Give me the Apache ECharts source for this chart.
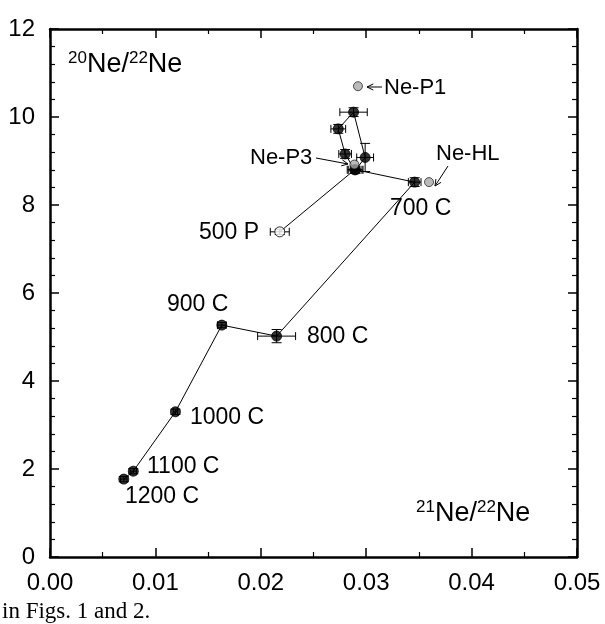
<!DOCTYPE html>
<html>
<head>
<meta charset="utf-8">
<script src="https://cdn.jsdelivr.net/npm/echarts@6/dist/echarts.min.js"></script>
<style>
  html, body { margin: 0; padding: 0; background: #fff; }
  #chart { width: 605px; height: 624px; }
</style>
</head>
<body>
<div id="chart"></div>
<script>
// stepped heating steps, in the order the line joins them
const stepNames = ['500 P', '', '', '', '', '', '', '700 C', '800 C', '900 C', '1000 C', '1100 C', '1200 C']
const stepX = [0.0218, 0.0289, 0.0280, 0.02735, 0.0288, 0.0299, 0.0290, 0.0346, 0.0215, 0.0163, 0.0119, 0.0079, 0.0070]
const stepY = [7.39, 8.80, 9.16, 9.73, 10.11, 9.08, 8.80, 8.52, 5.02, 5.27, 3.30, 1.95, 1.77]
const stepErrX = [0.0009, 0.0007, 0.0006, 0.0007, 0.0013, 0.0008, 0.0007, 0.0006, 0.0018, 0.0004, 0.0002, 0.0003, 0.0003]
const stepErrY = [0.06, 0.08, 0.1, 0.1, 0.1, 0.32, 0.08, 0.1, 0.15, 0.06, 0.06, 0.06, 0.06]

// end-member components (grey dots)
const refNames = ['Ne-P1', 'Ne-P3', 'Ne-HL']
const refX = [0.02922, 0.02888, 0.03596]
const refY = [10.70, 8.92, 8.52]

const xTicks = [0, 0.01, 0.02, 0.03, 0.04, 0.05]
const yTicks = [0, 2, 4, 6, 8, 10, 12]

const FONT = '"Liberation Sans", Arial, Helvetica, sans-serif'

const chart = echarts.init(document.getElementById('chart'), null, { renderer: 'canvas' })

function axisBase(showLabel) {
  return {
    type: 'value',
    axisLine: { show: true, onZero: false, lineStyle: { color: '#000', width: 2.5 } },
    axisTick: { show: true, inside: true, length: 9, lineStyle: { color: '#000', width: 1.5 } },
    minorTick: { show: true, length: 5, lineStyle: { color: '#000', width: 1.2 } },
    splitLine: { show: false },
    axisLabel: { show: showLabel, color: '#000', fontSize: 24, fontFamily: FONT }
  }
}

const xBottom = Object.assign(axisBase(true), {
  position: 'bottom', min: xTicks[0], max: xTicks[xTicks.length - 1], interval: 0.01
})
xBottom.minorTick.splitNumber = 2
xBottom.axisLabel.margin = 14
xBottom.axisLabel.formatter = v => v.toFixed(2)
const xTop = Object.assign(axisBase(false), {
  position: 'top', min: xTicks[0], max: xTicks[xTicks.length - 1], interval: 0.01
})
xTop.minorTick.splitNumber = 2

const yLeft = Object.assign(axisBase(true), {
  position: 'left', min: yTicks[0], max: yTicks[yTicks.length - 1], interval: 2
})
yLeft.minorTick.splitNumber = 5
yLeft.axisLabel.margin = 15
const yRight = Object.assign(axisBase(false), {
  position: 'right', min: yTicks[0], max: yTicks[yTicks.length - 1], interval: 2
})
yRight.minorTick.splitNumber = 5

const stepPoints = stepX.map((x, i) => [x, stepY[i]])
const errData = stepX.map((x, i) => [x, stepY[i], stepErrX[i], stepErrY[i]])

function renderErr(params, api) {
  const x = api.value(0), y = api.value(1), ex = api.value(2), ey = api.value(3)
  const l = api.coord([x - ex, y]), r = api.coord([x + ex, y])
  const t = api.coord([x, y + ey]), b = api.coord([x, y - ey])
  const st = { stroke: '#000', lineWidth: 1 }
  const cap = 4
  return {
    type: 'group',
    children: [
      { type: 'line', shape: { x1: l[0], y1: l[1], x2: r[0], y2: r[1] }, style: st },
      { type: 'line', shape: { x1: l[0], y1: l[1] - cap, x2: l[0], y2: l[1] + cap }, style: st },
      { type: 'line', shape: { x1: r[0], y1: r[1] - cap, x2: r[0], y2: r[1] + cap }, style: st },
      { type: 'line', shape: { x1: t[0], y1: t[1], x2: b[0], y2: b[1] }, style: st },
      { type: 'line', shape: { x1: t[0] - cap - 1, y1: t[1], x2: t[0] + cap + 1, y2: t[1] }, style: st },
      { type: 'line', shape: { x1: b[0] - cap - 1, y1: b[1], x2: b[0] + cap + 1, y2: b[1] }, style: st }
    ]
  }
}

// arrow with open head at (x2, y2)
function arrow(x1, y1, x2, y2) {
  const a = Math.atan2(y2 - y1, x2 - x1)
  const len = 7, sp = 0.45
  const p1 = [x2 - len * Math.cos(a - sp), y2 - len * Math.sin(a - sp)]
  const p2 = [x2 - len * Math.cos(a + sp), y2 - len * Math.sin(a + sp)]
  return [
    { type: 'line', shape: { x1, y1, x2, y2 }, style: { stroke: '#000', lineWidth: 1 }, z: 50 },
    { type: 'polyline', shape: { points: [p1, [x2, y2], p2] }, style: { stroke: '#000', lineWidth: 1, fill: null }, z: 50 }
  ]
}

function txt(text, x, y, extra) {
  return {
    type: 'text', x, y, z: 50,
    style: Object.assign({ text, font: '23px ' + FONT, fill: '#000', textVerticalAlign: 'middle' }, extra || {})
  }
}

const richIso = {
  sup: { fontSize: 17, fontFamily: FONT, verticalAlign: 'top', lineHeight: 30 },
  n: { fontSize: 27, fontFamily: FONT, lineHeight: 30 }
}

const graphics = [
  txt('{sup|20}{n|Ne/}{sup|22}{n|Ne}', 68, 65, { rich: richIso }),
  txt('{sup|21}{n|Ne/}{sup|22}{n|Ne}', 416, 514, { rich: richIso }),
  txt(refNames[0], 384, 88, { font: '22px ' + FONT }),
  txt(refNames[1], 250, 158, { font: '22px ' + FONT }),
  txt(refNames[2], 436, 154, { font: '22px ' + FONT }),
  txt(stepNames[0], 199, 233),
  txt(stepNames[7], 390, 209),
  txt(stepNames[8], 307, 337),
  txt(stepNames[9], 167, 305),
  txt(stepNames[10], 190, 418),
  txt(stepNames[11], 147, 467),
  txt(stepNames[12], 125, 497),
  txt('in Figs. 1 and 2.', 2, 612, { font: '23px "Liberation Serif", "Times New Roman", serif' })
].concat(
  arrow(382, 87, 367, 87),
  arrow(316, 158, 348, 164),
  arrow(448, 166, 435, 186)
)

chart.setOption({
  animation: false,
  grid: { left: 50, right: 28, top: 29, bottom: 67 },
  xAxis: [xBottom, xTop],
  yAxis: [yLeft, yRight],
  graphic: graphics,
  series: [
    {
      name: 'path',
      type: 'line',
      data: stepPoints,
      symbol: 'none',
      lineStyle: { color: '#000', width: 1 },
      z: 2
    },
    {
      name: 'errors',
      type: 'custom',
      renderItem: renderErr,
      data: errData,
      clip: false,
      z: 3
    },
    {
      name: 'steps',
      type: 'scatter',
      symbol: 'circle',
      symbolSize: 10,
      data: stepPoints.map((p, i) => ({
        value: p,
        itemStyle: i === 0
          ? { color: '#fff', borderColor: '#000', borderWidth: 1 }
          : { color: '#000', borderColor: '#000', borderWidth: 1 }
      })),
      z: 4
    },
    {
      name: 'components',
      type: 'scatter',
      symbol: 'circle',
      symbolSize: 9,
      data: refX.map((x, i) => [x, refY[i]]),
      itemStyle: { color: '#a9a9a9', borderColor: '#000', borderWidth: 0.8 },
      z: 5
    }
  ]
})
</script>
</body>
</html>
